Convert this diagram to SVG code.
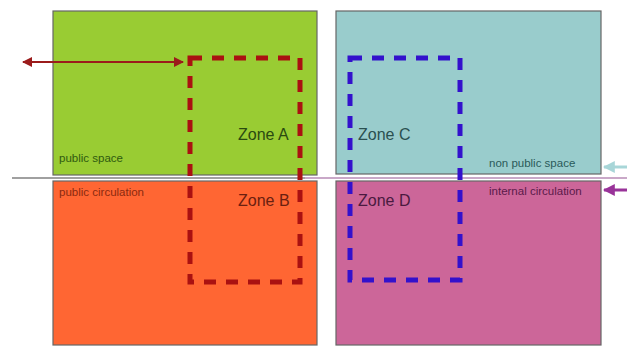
<svg xmlns="http://www.w3.org/2000/svg" width="627" height="352" viewBox="0 0 627 352">
<style>
.zone{stroke:#666;stroke-width:1.2}
.dash{fill:none;stroke-width:5;stroke-dasharray:12 10}
.lbl{font-family:"Liberation Sans",Arial,sans-serif;font-size:11.5px}
.zn{font-family:"Liberation Sans",Arial,sans-serif;font-size:16px}
</style>
<defs>
<marker id="ahR" viewBox="0 0 10 10" refX="9" refY="5" markerWidth="5" markerHeight="5" orient="auto-start-reverse"><path d="M0,0 L10,5 L0,10 z" fill="#9b1b1b"/></marker>
<marker id="ahT" viewBox="0 0 10 10" refX="9" refY="5" markerWidth="4" markerHeight="4" orient="auto"><path d="M0,0 L10,5 L0,10 z" fill="#a8d6d8"/></marker>
<marker id="ahP" viewBox="0 0 10 10" refX="9" refY="5" markerWidth="4" markerHeight="4" orient="auto"><path d="M0,0 L10,5 L0,10 z" fill="#993399"/></marker>
</defs>
<rect width="627" height="352" fill="#ffffff"/>
<g id="public-space"><rect class="zone" x="53" y="11" width="264" height="164" fill="#99cc33"/><text class="lbl" x="59" y="162" fill="#2f5a10">public space</text></g>
<g id="non-public-space"><rect class="zone" x="336" y="11" width="265" height="163" fill="#99cccc"/><text class="lbl" x="489" y="167" fill="#2a5a5a">non public space</text></g>
<g id="public-circulation"><rect class="zone" x="53" y="181" width="264" height="164" fill="#ff6633"/><text class="lbl" x="59" y="196" fill="#8a2a10">public circulation</text></g>
<g id="internal-circulation"><rect class="zone" x="336" y="181" width="265" height="164" fill="#cc6699"/><text class="lbl" x="489" y="195" fill="#5a1a4a">internal circulation</text></g>
<g id="connectors">
<line x1="12" y1="178" x2="305" y2="178" stroke="#a0a0a0" stroke-width="2"/>
<line x1="305" y1="178" x2="627" y2="178" stroke="#c9a8c8" stroke-width="2"/>
<line x1="23" y1="62" x2="183" y2="62" stroke="#9b1b1b" stroke-width="2" marker-start="url(#ahR)" marker-end="url(#ahR)"/>
<line x1="627" y1="167" x2="604" y2="167" stroke="#a8d6d8" stroke-width="3" marker-end="url(#ahT)"/>
<line x1="627" y1="190" x2="604" y2="190" stroke="#993399" stroke-width="3" marker-end="url(#ahP)"/>
</g>
<g id="zone-ab"><rect class="dash" x="190" y="58" width="110" height="224" stroke="#aa1111"/><text class="zn" x="238" y="140" fill="#2a4a10">Zone A</text><text class="zn" x="238" y="206" fill="#6a2010">Zone B</text></g>
<g id="zone-cd"><rect class="dash" x="350" y="58" width="110" height="222" stroke="#3311cc"/><text class="zn" x="358" y="140" fill="#2a5050">Zone C</text><text class="zn" x="358" y="206" fill="#4a1a40">Zone D</text></g>
</svg>
